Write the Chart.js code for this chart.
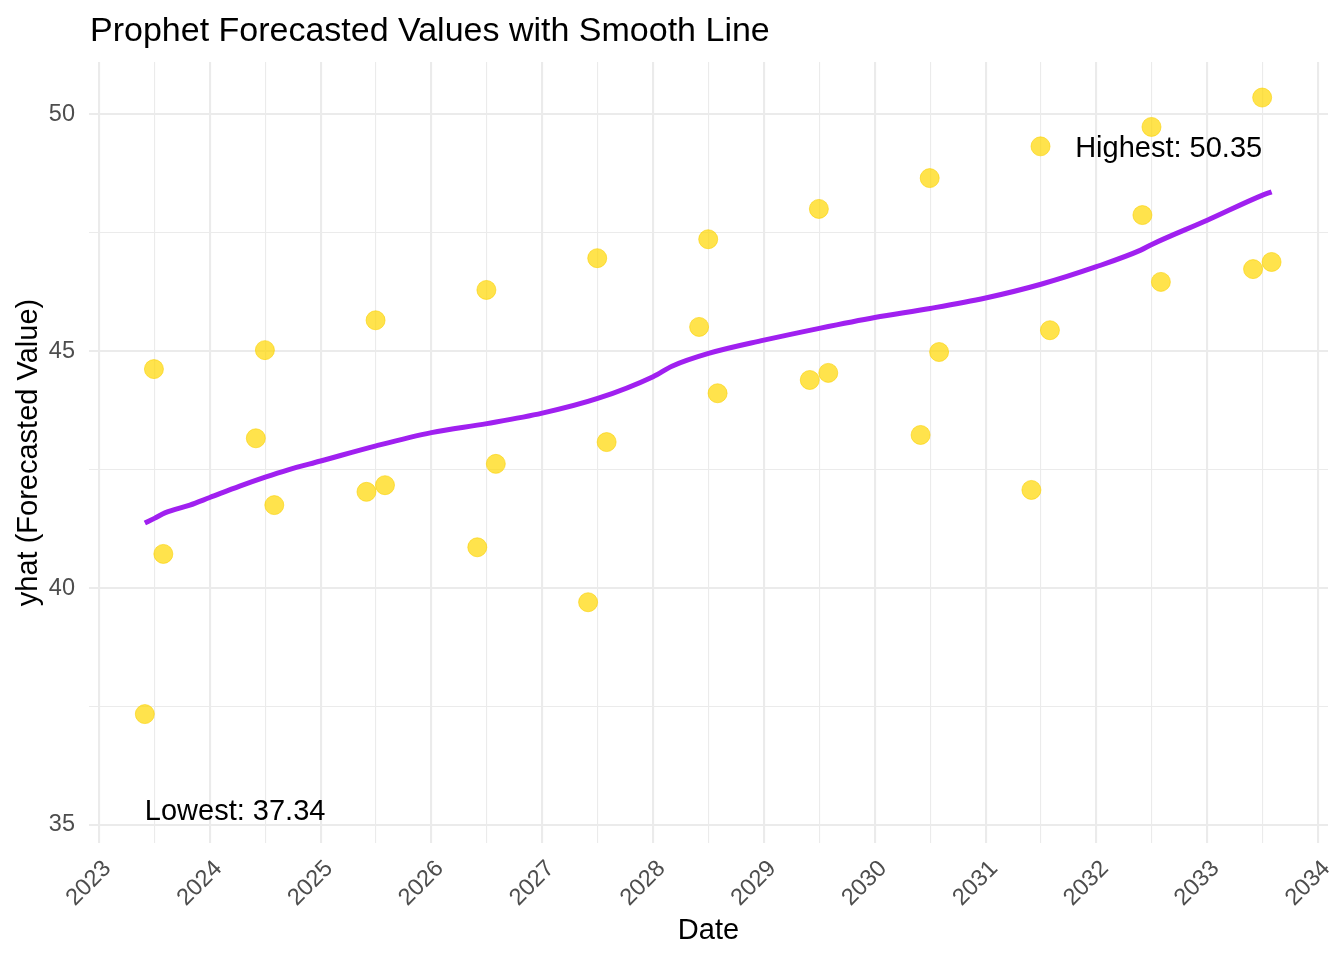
<!DOCTYPE html>
<html>
<head>
<meta charset="utf-8">
<script src="https://cdn.jsdelivr.net/npm/chart.js@4.4.1/dist/chart.umd.min.js"></script>
<style>
html,body{margin:0;padding:0;background:#ffffff;}
#wrap{width:1344px;height:960px;position:relative;}
</style>
</head>
<body>
<div id="wrap"><canvas id="c" width="1344" height="960"></canvas></div>
<script>
// ---- data ----
const dates = [
  "2023-06-01","2023-07-01","2023-08-01",
  "2024-06-01","2024-07-01","2024-08-01",
  "2025-06-01","2025-07-01","2025-08-01",
  "2026-06-01","2026-07-01","2026-08-01",
  "2027-06-01","2027-07-01","2027-08-01",
  "2028-06-01","2028-07-01","2028-08-01",
  "2029-06-01","2029-07-01","2029-08-01",
  "2030-06-01","2030-07-01","2030-08-01",
  "2031-06-01","2031-07-01","2031-08-01",
  "2032-06-01","2032-07-01","2032-08-01",
  "2033-06-01","2033-07-01","2033-08-01"
];
const yhat = [
  37.34, 44.62, 40.72,
  43.16, 45.02, 41.75,
  42.03, 45.65, 42.17,
  40.86, 46.29, 42.62,
  39.70, 46.96, 43.08,
  45.51, 47.36, 44.11,
  44.39, 48.00, 44.54,
  43.23, 48.65, 44.98,
  42.07, 49.32, 45.44,
  47.87, 49.73, 46.46,
  46.73, 50.35, 46.88
];
// smooth (loess) curve, x in decimal years
const smoothX = [2023.414, 2023.5, 2023.6, 2023.82, 2024.0, 2024.27, 2024.5, 2024.7, 2025.0, 2025.5,
  2026.0, 2026.5, 2027.0, 2027.5, 2028.0, 2028.17, 2028.5, 2029.0, 2029.5, 2030.0,
  2030.5, 2031.0, 2031.5, 2032.0, 2032.4, 2032.5, 2033.0, 2033.5, 2033.581];
const smoothY = [41.37, 41.47, 41.59, 41.75, 41.91, 42.15, 42.34, 42.49, 42.68, 43.00,
  43.28, 43.47, 43.69, 44.00, 44.46, 44.68, 44.95, 45.23, 45.48, 45.71,
  45.90, 46.12, 46.41, 46.78, 47.13, 47.25, 47.76, 48.29, 48.36];
const xTickYears = [2023, 2024, 2025, 2026, 2027, 2028, 2029, 2030, 2031, 2032, 2033, 2034];
const yTickValues = [35, 40, 45, 50];
const titleText = "Prophet Forecasted Values with Smooth Line";
const xTitleText = "Date";
const yTitleText = "yhat (Forecasted Value)";
const highLabelPrefix = "Highest: ";
const lowLabelPrefix = "Lowest: ";

// ---- helpers ----
function toDecimalYear(s) {
  const d = new Date(s + "T00:00:00Z");
  const y = d.getUTCFullYear();
  const start = Date.UTC(y, 0, 1);
  const end = Date.UTC(y + 1, 0, 1);
  return y + (d.getTime() - start) / (end - start);
}
const xs = dates.map(toDecimalYear);
const pointData = xs.map((x, i) => ({x: x, y: yhat[i]}));
const lineData = smoothX.map((x, i) => ({x: x, y: smoothY[i]}));

// major + minor tick lists
const xMinor = [];
for (let i = 0; i < xTickYears.length; i++) {
  xMinor.push(xTickYears[i]);
  if (i < xTickYears.length - 1) xMinor.push((xTickYears[i] + xTickYears[i + 1]) / 2);
}
const yMinor = [];
for (let i = 0; i < yTickValues.length; i++) {
  yMinor.push(yTickValues[i]);
  if (i < yTickValues.length - 1) yMinor.push((yTickValues[i] + yTickValues[i + 1]) / 2);
}

const FONT = '"Liberation Sans", Arial, Helvetica, sans-serif';
const GRID = '#EBEBEB';

const ggPlugin = {
  id: 'ggExtras',
  afterDraw(chart) {
    const ctx = chart.ctx;
    const sx = chart.scales.x, sy = chart.scales.y;
    ctx.save();
    // title
    ctx.font = '34px ' + FONT;
    ctx.fillStyle = '#000000';
    ctx.textAlign = 'left';
    ctx.textBaseline = 'alphabetic';
    ctx.fillText(titleText, 90, 41);
    // annotations
    const maxV = Math.max(...yhat), minV = Math.min(...yhat);
    const iMax = yhat.indexOf(maxV), iMin = yhat.indexOf(minV);
    ctx.font = '29px ' + FONT;
    ctx.textBaseline = 'middle';
    ctx.textAlign = 'right';
    ctx.fillText(highLabelPrefix + maxV.toFixed(2), sx.getPixelForValue(xs[iMax]), sy.getPixelForValue(maxV - 1.08));
    ctx.textAlign = 'left';
    ctx.fillText(lowLabelPrefix + minV.toFixed(2), sx.getPixelForValue(xs[iMin]), sy.getPixelForValue(minV - 2.06));
    ctx.restore();
  }
};

new Chart(document.getElementById('c'), {
  type: 'scatter',
  data: {
    datasets: [
      {
        type: 'line',
        data: lineData,
        borderColor: '#A020F0',
        borderWidth: 5,
        pointRadius: 0,
        fill: false,
        cubicInterpolationMode: 'monotone',
        borderCapStyle: 'butt'
      },
      {
        type: 'scatter',
        data: pointData,
        backgroundColor: 'rgba(255,215,0,0.7)',
        borderColor: 'rgba(250,208,0,0.75)',
        borderWidth: 0.8,
        pointRadius: 9.5,
        pointHoverRadius: 9.5
      }
    ]
  },
  options: {
    responsive: false,
    animation: false,
    devicePixelRatio: 1,
    layout: {padding: {top: 62, right: 16, left: 0, bottom: 0}},
    plugins: {
      legend: {display: false},
      tooltip: {enabled: false},
      title: {display: false}
    },
    scales: {
      x: {
        type: 'linear',
        min: 2022.91,
        max: 2034.09,
        afterBuildTicks(axis) { axis.ticks = xMinor.map(v => ({value: v})); },
        afterFit(scale) { scale.height = 117; scale.paddingLeft = 0; scale.paddingRight = 0; },
        grid: {
          color: GRID,
          lineWidth: ctx => (ctx.tick && Number.isInteger(ctx.tick.value)) ? 2.1 : 1.1,
          drawTicks: false
        },
        border: {display: false},
        ticks: {
          autoSkip: false,
          minRotation: 45,
          maxRotation: 45,
          padding: 12,
          labelOffset: 8.5,
          color: '#4D4D4D',
          font: {family: FONT, size: 23.5},
          callback: v => Number.isInteger(v) ? String(v) : ''
        },
        title: {
          display: true,
          text: xTitleText,
          color: '#000000',
          font: {family: FONT, size: 29},
          padding: {top: 0, bottom: 12}
        }
      },
      y: {
        type: 'linear',
        min: 34.62,
        max: 51.10,
        afterBuildTicks(axis) { axis.ticks = yMinor.map(v => ({value: v})); },
        afterFit(scale) { scale.width = 89; },
        grid: {
          color: GRID,
          lineWidth: ctx => (ctx.tick && ctx.tick.value % 5 === 0) ? 2.1 : 1.1,
          drawTicks: false
        },
        border: {display: false},
        ticks: {
          autoSkip: false,
          padding: 14,
          color: '#4D4D4D',
          font: {family: FONT, size: 23.5},
          callback: v => (v % 5 === 0) ? String(v) : ''
        },
        title: {
          display: true,
          text: yTitleText,
          color: '#000000',
          font: {family: FONT, size: 29},
          padding: {top: 12, bottom: 0}
        }
      }
    }
  },
  plugins: [ggPlugin]
});
</script>
</body>
</html>
